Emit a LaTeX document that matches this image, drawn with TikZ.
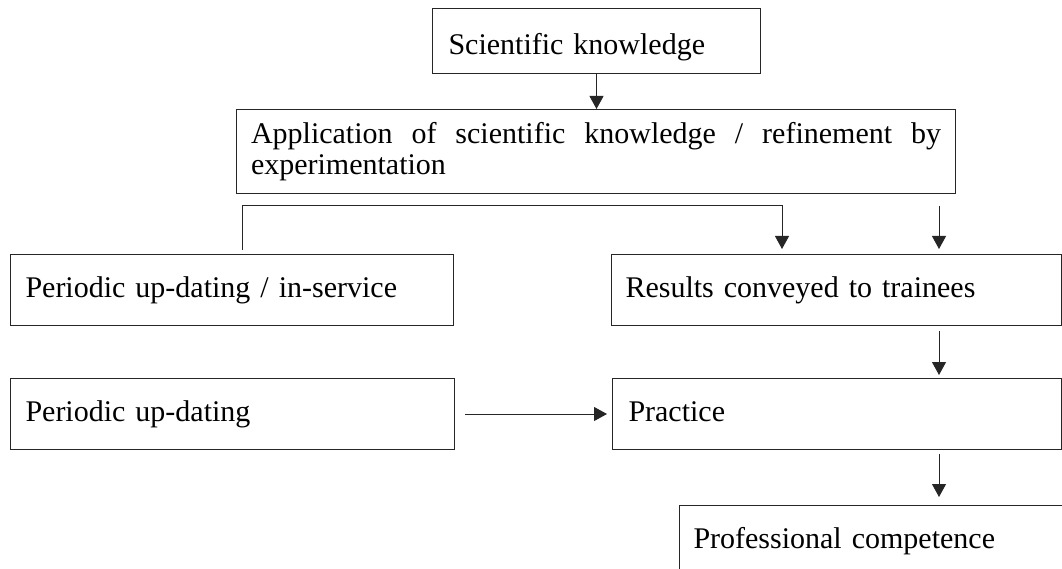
\documentclass[tikz,border=0pt]{standalone}
\usepackage{fontspec}
\setmainfont{Liberation Serif}
\usetikzlibrary{arrows.meta}
\begin{document}
\begin{tikzpicture}[x=1pt,y=-1pt,
  every node/.style={font=\fontsize{30pt}{31pt}\selectfont},
  box/.style={draw=black!85, line width=1pt, rectangle, anchor=north west,
    inner ysep=0pt, align=left},
  oneline/.style={box, text height=21pt, text depth=6pt},
  link/.style={draw=black!85, line width=1pt},
  arrow/.style={link, -{Triangle[length=13pt,width=14pt]}}]
\useasboundingbox (0,0) rectangle (1062,569);
\clip (0,0) rectangle (1062,569);

% boxes
\node[box, minimum width=328pt, minimum height=65pt, inner xsep=16pt,
  text width=296pt, text height=35pt, text depth=8pt] (sk) at (432,8)
  {Scientific knowledge};
\node[box, minimum width=719pt, minimum height=84pt, inner xsep=14.5pt,
  text width=690pt, align=justify] (app) at (236,109)
  {Application of scientific knowledge / refinement by\linebreak experimentation};
\node[oneline, minimum width=443pt, minimum height=71pt, inner xsep=15pt,
  text width=413pt] (pi) at (10,254) {Periodic up-dating / in-service};
\node[oneline, minimum width=450pt, minimum height=71pt, inner xsep=14pt,
  text width=422pt] (res) at (611,254) {Results conveyed to trainees};
\node[oneline, minimum width=444pt, minimum height=71pt, inner xsep=15pt,
  text width=414pt] (pu) at (10,378) {Periodic up-dating};
\node[oneline, minimum width=449pt, minimum height=71pt, inner xsep=16pt,
  text width=417pt] (prac) at (612,378) {Practice};
\node[oneline, minimum width=450pt, minimum height=71pt, inner xsep=14pt,
  text width=422pt] (pc) at (679,505) {Professional competence};

% columns used by the connectors
\coordinate (lcol) at (242,0);
\coordinate (mcol) at (782,0);
\coordinate (rcol) at (939,0);
\coordinate (bend) at (0,206);

% connectors
\draw[arrow] (sk.south) -- (sk.south |- app.north);
\draw[arrow, shorten <=4pt, shorten >=5pt]
  (pi.north -| lcol) -- (lcol |- bend) -| (res.north -| mcol);
\draw[arrow, shorten <=12pt, shorten >=5pt] (app.south -| rcol) -- (res.north -| rcol);
\draw[arrow, shorten <=5pt, shorten >=3pt] (res.south -| rcol) -- (prac.north -| rcol);
\draw[arrow, shorten <=10pt, shorten >=5pt] (pu.east) -- (pu.east -| prac.west);
\draw[arrow, shorten <=4pt, shorten >=8pt] (prac.south -| rcol) -- (pc.north -| rcol);
\end{tikzpicture}
\end{document}
